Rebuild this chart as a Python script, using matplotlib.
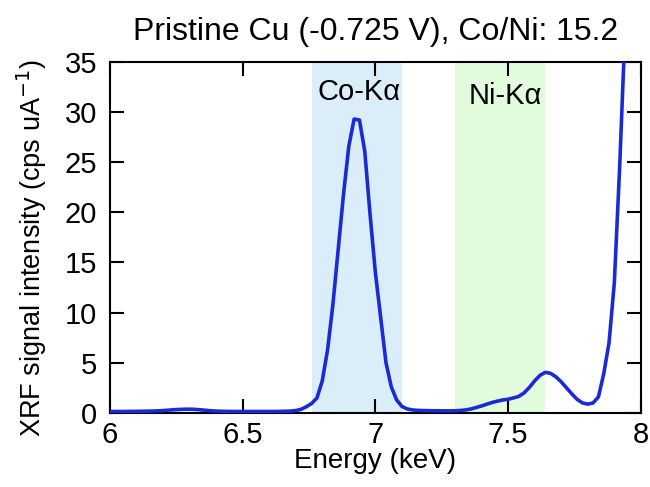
import matplotlib
matplotlib.use("Agg")
import matplotlib.pyplot as plt

plt.rcParams['font.family'] = ['Liberation Sans', 'DejaVu Sans']

# XRF spectrum, sampled every 20 eV
energy_kev = [
    6.00, 6.02, 6.04, 6.06, 6.08, 6.10, 6.12, 6.14, 6.16, 6.18,
    6.20, 6.22, 6.24, 6.26, 6.28, 6.30, 6.32, 6.34, 6.36, 6.38,
    6.40, 6.42, 6.44, 6.46, 6.48, 6.50, 6.52, 6.54, 6.56, 6.58,
    6.60, 6.62, 6.64, 6.66, 6.68, 6.70, 6.72, 6.74, 6.76, 6.78,
    6.80, 6.82, 6.84, 6.86, 6.88, 6.90, 6.92, 6.94, 6.96, 6.98,
    7.00, 7.02, 7.04, 7.06, 7.08, 7.10, 7.12, 7.14, 7.16, 7.18,
    7.20, 7.22, 7.24, 7.26, 7.28, 7.30, 7.32, 7.34, 7.36, 7.38,
    7.40, 7.42, 7.44, 7.46, 7.48, 7.50, 7.52, 7.54, 7.56, 7.58,
    7.60, 7.62, 7.64, 7.66, 7.68, 7.70, 7.72, 7.74, 7.76, 7.78,
    7.80, 7.82, 7.84, 7.86, 7.88, 7.90, 7.92, 7.94,
]
intensity = [
    0.15, 0.15, 0.15, 0.15, 0.16, 0.16, 0.17, 0.18, 0.19, 0.21,
    0.24, 0.28, 0.32, 0.35, 0.37, 0.38, 0.36, 0.32, 0.27, 0.22,
    0.19, 0.17, 0.16, 0.15, 0.15, 0.15, 0.15, 0.15, 0.15, 0.15,
    0.15, 0.15, 0.16, 0.17, 0.19, 0.24, 0.36, 0.62, 0.95, 1.5,
    3.2, 6.3, 10.8, 16.3, 21.8, 26.6, 29.3, 29.2, 26.1, 19.8,
    14.0, 9.5, 5.0, 2.6, 1.3, 0.65, 0.4, 0.3, 0.26, 0.24,
    0.23, 0.22, 0.22, 0.21, 0.21, 0.22, 0.25, 0.30, 0.40, 0.55,
    0.70, 0.88, 1.05, 1.18, 1.30, 1.37, 1.50, 1.65, 2.0, 2.55,
    3.2, 3.75, 4.05, 3.95, 3.6, 3.1, 2.5, 1.9, 1.35, 1.0,
    0.88, 1.0, 1.6, 3.9, 7.0, 13.0, 24.5, 38.0,
]

# integration windows for each line
co_window = (6.762, 7.102)
ni_window = (7.30, 7.638)

fig = plt.figure(figsize=(6.5, 4.87), dpi=100)
ax = fig.add_axes([0.169, 0.152, 0.817, 0.721])

ax.axvspan(*co_window, color='#dbedf9', lw=0, zorder=0)
ax.axvspan(*ni_window, color='#e2fbdc', lw=0, zorder=0)
ax.plot(energy_kev, intensity, color='#1a2bd6', lw=2.6, zorder=3)

ax.text(6.94, 32.0, 'Co-Kα', ha='center', va='center', fontsize=21)
ax.text(7.49, 31.6, 'Ni-Kα', ha='center', va='center', fontsize=21)

ax.set_xlim(6, 8)
ax.set_ylim(0, 35)
ax.set_xticks([6, 6.5, 7, 7.5, 8])
ax.set_xticklabels(['6', '6.5', '7', '7.5', '8'])
ax.set_yticks(range(0, 36, 5))

ax.tick_params(direction='in', top=True, right=True, length=10, width=1.5,
               labelsize=21)
ax.tick_params(axis='x', pad=6)
ax.tick_params(axis='y', pad=9)
for spine in ax.spines.values():
    spine.set_linewidth(1.5)

ax.set_xlabel('Energy (keV)', fontsize=20, labelpad=-1)
ax.set_ylabel('XRF signal intensity (cps uA$^{-1}$)', fontsize=19.5)
ax.yaxis.set_label_coords(-0.114, 0.47)
ax.set_title('Pristine Cu (-0.725 V), Co/Ni: 15.2', fontsize=23, pad=16)

fig.savefig('out.png', dpi=100)
